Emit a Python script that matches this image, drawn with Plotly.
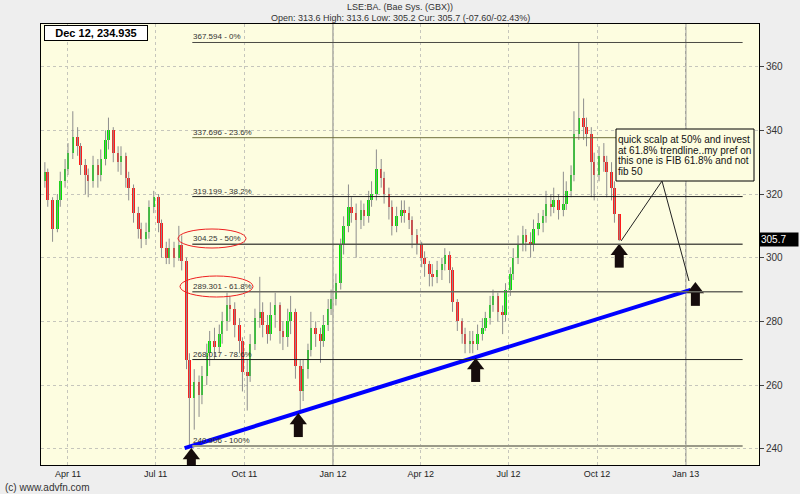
import pandas as pd
import plotly.graph_objects as go

# Candles, one every 3rd trading day (Mar 2011 - 24 Oct 2012)
open_px = [
    324, 327, 318, 309, 318, 324, 328, 333, 338, 335,
    329, 326, 324, 329, 326, 331, 337, 340, 333, 330,
    332, 325, 322, 314, 309, 306, 308, 316, 319, 311,
    303, 300, 303, 300, 304, 299, 268, 256, 261, 257,
    263, 270, 274, 272, 276, 280, 285, 284, 279, 274,
    264, 263, 273, 281, 283, 279, 276, 282, 285, 277,
    275, 280, 283, 266, 258, 265, 271, 278, 276, 274,
    279, 284, 287, 292, 304, 310, 316, 314, 312, 315,
    313, 318, 320, 328, 325, 320, 316, 310, 313, 315,
    314, 312, 307, 304, 300, 298, 295, 294, 296, 298,
    301, 296, 286, 280, 276, 273, 274, 273, 276, 278,
    281, 285, 288, 283, 282, 290, 295, 300, 304, 307,
    305, 304, 309, 311, 313, 317, 316, 318, 315, 317,
    321, 326, 339, 344, 341, 339, 330, 326, 332, 330,
    327, 322, 313.6,
]
high_px = [
    330, 328, 319, 320, 327, 331, 336, 346, 341, 336,
    331, 328, 332, 331, 334, 340, 344, 341, 335, 335,
    333, 327, 323, 316, 311, 311, 318, 321, 320, 312,
    305, 306, 305, 310, 307, 300, 270, 265, 263, 266,
    273, 277, 278, 279, 283, 289, 288, 286, 281, 275,
    268, 276, 284, 294, 286, 282, 286, 289, 286, 280,
    284, 288, 284, 268, 268, 273, 283, 280, 278, 282,
    287, 290, 295, 306, 313, 323, 319, 317, 318, 317,
    321, 324, 334, 331, 327, 322, 318, 316, 318, 318,
    316, 313, 309, 305, 302, 299, 298, 299, 300, 303,
    302, 297, 287, 281, 278, 277, 277, 279, 281, 283,
    288, 290, 289, 285, 292, 297, 303, 307, 310, 309,
    308, 312, 314, 315, 321, 320, 322, 320, 327, 324,
    329, 346, 367.6, 350, 344, 341, 333, 335, 336, 332,
    330, 324, 313.6,
]
low_px = [
    322, 316, 305, 308, 316, 322, 326, 331, 332, 326,
    320, 319, 322, 322, 324, 329, 334, 330, 327, 326,
    322, 318, 311, 306, 303, 304, 306, 314, 308, 300,
    298, 298, 297, 299, 296, 265, 240.9, 246, 250, 254,
    260, 266, 268, 270, 273, 277, 280, 275, 270, 258,
    252, 261, 271, 278, 275, 273, 274, 278, 273, 271,
    272, 276, 262, 252, 255, 262, 269, 272, 267, 272,
    277, 282, 285, 290, 301, 308, 311, 300, 309, 310,
    311, 316, 318, 322, 317, 312, 307, 308, 311, 311,
    309, 303, 301, 297, 294, 291, 291, 292, 293, 296,
    292, 283, 277, 273, 270, 270, 270, 271, 274, 277,
    279, 283, 280, 276, 280, 288, 293, 298, 302, 302,
    300, 302, 307, 308, 311, 313, 314, 312, 313, 315,
    319, 324, 337, 337, 335, 319, 318, 324, 327, 319,
    318, 311, 305.2,
]
close_px = [
    327, 318, 309, 318, 324, 328, 333, 338, 335, 329,
    326, 324, 329, 326, 331, 337, 340, 333, 330, 332,
    325, 322, 314, 309, 306, 308, 316, 319, 311, 303,
    300, 303, 300, 304, 299, 268, 256, 261, 257, 263,
    270, 274, 272, 276, 280, 285, 284, 279, 274, 264,
    263, 273, 281, 283, 279, 276, 282, 285, 277, 275,
    280, 283, 266, 258, 265, 271, 278, 276, 274, 279,
    284, 287, 292, 304, 310, 316, 314, 312, 315, 313,
    318, 320, 328, 325, 320, 316, 310, 313, 315, 314,
    312, 307, 304, 300, 298, 295, 294, 296, 298, 301,
    296, 286, 280, 276, 273, 274, 273, 276, 278, 281,
    285, 288, 283, 282, 290, 295, 300, 304, 307, 305,
    304, 309, 311, 313, 317, 316, 318, 315, 317, 321,
    326, 339, 344, 341, 339, 330, 326, 332, 330, 327,
    322, 313.6, 305.7,
]
dates = pd.bdate_range(end="2012-10-24", periods=len(close_px), freq="3B")

# Fibonacci retracement levels
fib_levels = [367.594, 337.696, 319.199, 304.25, 289.301, 268.017, 240.906]
fib_pcts = ["0%", "23.6%", "38.2%", "50%", "61.8%", "78.6%", "100%"]
fib_start, fib_end = "2011-08-08", "2013-03-01"

# trendline through the lows
trend_dates = ["2011-07-31", "2013-01-06"]
trend_vals = [240.2, 289.9]

# arrow markers (tip position)
arrow_dates = ["2011-08-07", "2011-11-26", "2012-05-28", "2012-10-24", "2013-01-11"]
arrow_vals = [240.2, 251.2, 268.5, 304.4, 292.4]

tick_dates = ["2011-04-01", "2011-07-01", "2011-10-01", "2012-01-01",
              "2012-04-01", "2012-07-01", "2012-10-01", "2013-01-01"]
tick_labels = ["Apr 11", "Jul 11", "Oct 11", "Jan 12", "Apr 12", "Jul 12", "Oct 12", "Jan 13"]
y_ticks = [240, 260, 280, 300, 320, 340, 360]

note_lines = ["quick scalp at 50% and invest",
              "at 61.8% trendline..my pref on",
              "this one is FIB 61.8% and not",
              "fib 50"]

W, H = 800, 494
L, R, T, B = 41, 759, 24, 465  # plot area in pixels
Y0, Y1 = 234.9, 373.4
FONT = "Liberation Sans, Arial, sans-serif"
UNIT = (B - T) / (Y1 - Y0)  # pixels per price unit


def px(x):
    return (x - L) / (R - L)


def py(y):
    return (B - y) / (B - T)


fig = go.Figure()

# gray high-low wicks
wick_x, wick_y = [], []
for d, lo, hi in zip(dates, low_px, high_px):
    wick_x += [d, d, None]
    wick_y += [lo, hi, None]
fig.add_trace(go.Scatter(x=wick_x, y=wick_y, mode="lines",
                         line=dict(color="#8e8e8e", width=1), hoverinfo="skip"))

# coloured bodies
body_base = [min(o, c) for o, c in zip(open_px, close_px)]
body_len = [max(abs(c - o), 0.6) for o, c in zip(open_px, close_px)]
body_col = ["#00e600" if c >= o else "#ff1a1a" for o, c in zip(open_px, close_px)]
fig.add_trace(go.Bar(x=dates, y=body_len, base=body_base, width=2.6 * 86400000,
                     marker=dict(color=body_col, line_width=0)))

# trendline
fig.add_trace(go.Scatter(x=trend_dates, y=trend_vals, mode="lines",
                         line=dict(color="#0000ff", width=4), hoverinfo="skip"))

fib_colors = ["#4a4a44", "#6e6e3a", "#1e1e1e", "#55554c", "#6a6a62", "#1e1e1e", "#9a9a88"]
fib_widths = [1, 1, 1, 1.5, 1.5, 1, 2]
for lvl, pct, col, w in zip(fib_levels, fib_pcts, fib_colors, fib_widths):
    fig.add_shape(type="line", xref="x", yref="y", x0=fib_start, x1=fib_end, y0=lvl, y1=lvl,
                  line=dict(color=col, width=w), layer="above")
    fig.add_annotation(x=fib_start, y=lvl, xref="x", yref="y", text=f"{lvl:g} - {pct}",
                       showarrow=False, xanchor="left", yanchor="bottom", borderpad=0,
                       font=dict(family=FONT, size=8, color="#333"))

# year separators
for d in ["2012-01-01", "2013-01-01"]:
    fig.add_shape(type="line", xref="x", yref="paper", x0=d, x1=d, y0=0, y1=1,
                  line=dict(color="#a4a49c", width=1.5), layer="below")

# red ellipses round the 50% and 61.8% labels
for x0, x1, y0, y1 in [(178, 246, 229, 248), (180, 253, 276, 297)]:
    fig.add_shape(type="circle", xref="paper", yref="paper",
                  x0=px(x0), x1=px(x1), y0=py(y1), y1=py(y0),
                  line=dict(color="#ee2020", width=1), layer="above")

# black block arrows: triangle head + thick shaft, tip at the given price
head_size, shaft_len = 15, 11
head_h = 0.75 * head_size
fig.add_trace(go.Scatter(
    x=arrow_dates, y=[v - (head_size / 2) / UNIT for v in arrow_vals],
    mode="markers", hoverinfo="skip",
    marker=dict(symbol="triangle-up", size=head_size, color="#160c0c", line_width=0)))
fig.add_trace(go.Scatter(
    x=arrow_dates, y=[v - (head_h + shaft_len / 2 - 0.5) / UNIT for v in arrow_vals],
    mode="markers", hoverinfo="skip",
    marker=dict(symbol="line-ns", size=shaft_len, color="#160c0c",
                line=dict(width=9, color="#160c0c"))))

# comment box and pointers
fig.add_shape(type="rect", xref="paper", yref="paper", x0=px(616), x1=px(754),
              y0=py(181), y1=py(129), line=dict(color="black", width=1),
              fillcolor="#fdfde0", layer="above")
for i, line in enumerate(note_lines):
    fig.add_annotation(x=px(617), y=py(139.5 + 10.5 * i), xref="paper", yref="paper",
                       text=line, showarrow=False, xanchor="left", yanchor="middle",
                       borderpad=0, font=dict(family=FONT, size=10, color="#111"))
for ex, ey in [(621, 241), (689, 281)]:
    fig.add_shape(type="line", xref="paper", yref="paper", x0=px(662), y0=py(181),
                  x1=px(ex), y1=py(ey), line=dict(color="#222", width=1), layer="above")

# date/price box top left
fig.add_annotation(x=px(44), y=py(25), xref="paper", yref="paper", text="<b>Dec 12, 234.935</b>",
                   showarrow=False, xanchor="left", yanchor="top", width=100,
                   bgcolor="white", bordercolor="black", borderwidth=1, borderpad=1,
                   font=dict(family=FONT, size=11, color="black"))

# current price tag
fig.add_annotation(x=1, y=close_px[-1], xref="paper", yref="y", text="305.7",
                   showarrow=False, xanchor="left", yanchor="middle", width=36, align="left",
                   bgcolor="black", borderpad=1, font=dict(family=FONT, size=10, color="white"))

# header and footer
fig.add_annotation(x=0.5, y=py(7), xref="paper", yref="paper", text="LSE:BA. (Bae Sys. (GBX))",
                   showarrow=False, xanchor="center", yanchor="middle",
                   font=dict(family=FONT, size=9, color="#333"))
fig.add_annotation(x=0.5, y=py(18), xref="paper", yref="paper",
                   text="Open: 313.6 High: 313.6 Low: 305.2 Cur: 305.7 (-07.60/-02.43%)",
                   showarrow=False, xanchor="center", yanchor="middle",
                   font=dict(family=FONT, size=9, color="#333"))
fig.add_annotation(x=px(3), y=py(487), xref="paper", yref="paper", text="(c) www.advfn.com",
                   showarrow=False, xanchor="left", yanchor="middle",
                   font=dict(family=FONT, size=10, color="#333"))

fig.update_layout(
    width=W, height=H,
    margin=dict(l=L, r=W - R, t=T, b=H - B),
    paper_bgcolor="#eeeeee", plot_bgcolor="#fdfde0",
    showlegend=False, bargap=0,
    font=dict(family=FONT, size=9, color="#222"),
    xaxis=dict(type="date", range=["2011-03-04", "2013-03-18"],
               tickvals=tick_dates, ticktext=tick_labels,
               showgrid=True, gridcolor="#c6c6bc", griddash="dot", gridwidth=1,
               showline=True, linecolor="black", linewidth=1, mirror=True,
               ticks="", zeroline=False, tickfont=dict(size=9, color="#222")),
    yaxis=dict(side="right", range=[Y0, Y1], tickvals=y_ticks,
               showgrid=True, gridcolor="#c6c6bc", griddash="dot", gridwidth=1,
               ticks="outside", ticklen=4, tickcolor="#444",
               showline=True, linecolor="black", linewidth=1, mirror=True,
               zeroline=False, tickfont=dict(size=10, color="#333")),
)

# drop the browser's default 8px body margin so the figure sits at 0,0
fig.write_html("out.html", config={"displayModeBar": False},
               post_script="document.body.style.margin='0';")
